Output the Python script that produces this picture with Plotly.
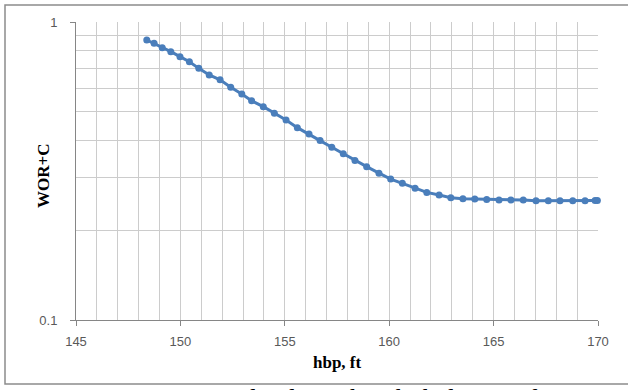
import plotly.graph_objects as go

hbp_ft = [148.39, 148.74, 149.13, 149.54, 149.98, 150.43, 150.88, 151.38, 151.90, 152.41,
          152.94, 153.41, 153.97, 154.50, 155.06, 155.60, 156.16, 156.69, 157.25, 157.80,
          158.36, 158.92, 159.51, 160.07, 160.63, 161.24, 161.80, 162.39, 162.95, 163.53,
          164.10, 164.67, 165.26, 165.83, 166.42, 167.03, 167.62, 168.18, 168.79, 169.38,
          169.86, 169.97]
wor_c = [0.870, 0.848, 0.820, 0.795, 0.765, 0.736, 0.699, 0.664, 0.640, 0.604,
         0.573, 0.544, 0.520, 0.494, 0.469, 0.442, 0.421, 0.400, 0.380, 0.361,
         0.343, 0.327, 0.311, 0.297, 0.2875, 0.2767, 0.268, 0.2627, 0.2573, 0.255,
         0.2547, 0.2535, 0.2527, 0.2527, 0.2527, 0.2515, 0.2515, 0.2515, 0.2515, 0.2515,
         0.252, 0.252]

x_ticks = [145, 150, 155, 160, 165, 170]
y_ticks = [0.1, 1]
y_ticktext = ["0.1", "1"]
y_minor = [0.2, 0.3, 0.4, 0.5, 0.6, 0.7, 0.8, 0.9]

x_title = "hbp, ft"
y_title = "WOR+C"
caption = "Fig. 4 - WOR+C vs. oil column height below perforations"

W, H = 628, 390
L, R, T, B = 76, 30, 22, 70
pw, ph = W - L - R, H - T - B

def px(x):
    return (x - L) / pw

def py(y):
    return (H - B - y) / ph

blue = "#4A7EBB"
grid = "#cccccc"

fig = go.Figure()
fig.add_trace(go.Scatter(
    x=hbp_ft, y=wor_c, mode="lines+markers",
    line=dict(color=blue, width=3),
    marker=dict(color=blue, size=7),
    showlegend=False, cliponaxis=False,
))

fig.update_layout(
    width=W, height=H,
    margin=dict(l=L, r=R, t=T, b=B, pad=0, autoexpand=False),
    paper_bgcolor="white", plot_bgcolor="white",
    xaxis=dict(
        range=[145, 170], tickvals=x_ticks, ticks="outside", ticklen=5,
        tickcolor="#868686", showgrid=True, gridcolor=grid, gridwidth=1,
        minor=dict(dtick=1, showgrid=True, gridcolor=grid, gridwidth=1, ticks=""),
        showline=True, linecolor="#868686", linewidth=1, zeroline=False,
        ticklabelstandoff=4,
        tickfont=dict(family="Liberation Sans", size=13, color="#595959"),
    ),
    yaxis=dict(
        type="log", range=[-1, 0], tickvals=y_ticks, ticktext=y_ticktext,
        ticks="outside", ticklen=5, tickcolor="#868686",
        showgrid=True, gridcolor=grid, gridwidth=1,
        minor=dict(tickvals=y_minor, showgrid=True, gridcolor=grid, gridwidth=1, ticks=""),
        showline=True, linecolor="#868686", linewidth=1, zeroline=False,
        ticklabelstandoff=10,
        tickfont=dict(family="Liberation Sans", size=13, color="#595959"),
    ),
    shapes=[
        dict(type="rect", xref="paper", yref="paper",
             x0=px(5), x1=px(640), y0=py(384), y1=py(5),
             line=dict(color="#8c8c8c", width=1.5), layer="below"),
    ],
    annotations=[
        dict(text="<b>" + y_title + "</b>", xref="paper", yref="paper",
             x=px(43), y=py(176), textangle=-90, showarrow=False,
             xanchor="center", yanchor="middle",
             font=dict(family="Liberation Serif", size=17, color="black")),
        dict(text="<b>" + x_title + "</b>", xref="paper", yref="paper",
             x=px(337), y=py(362), showarrow=False,
             xanchor="center", yanchor="middle",
             font=dict(family="Liberation Serif", size=17, color="black")),
        dict(text=caption, xref="paper", yref="paper",
             x=px(6), y=py(382), showarrow=False,
             xanchor="left", yanchor="top",
             font=dict(family="Liberation Serif", size=26.5, color="black")),
    ],
)

fig.write_html(
    "out.html",
    config={"displayModeBar": False},
    post_script="document.body.style.margin='0';document.body.style.overflow='hidden';",
)
